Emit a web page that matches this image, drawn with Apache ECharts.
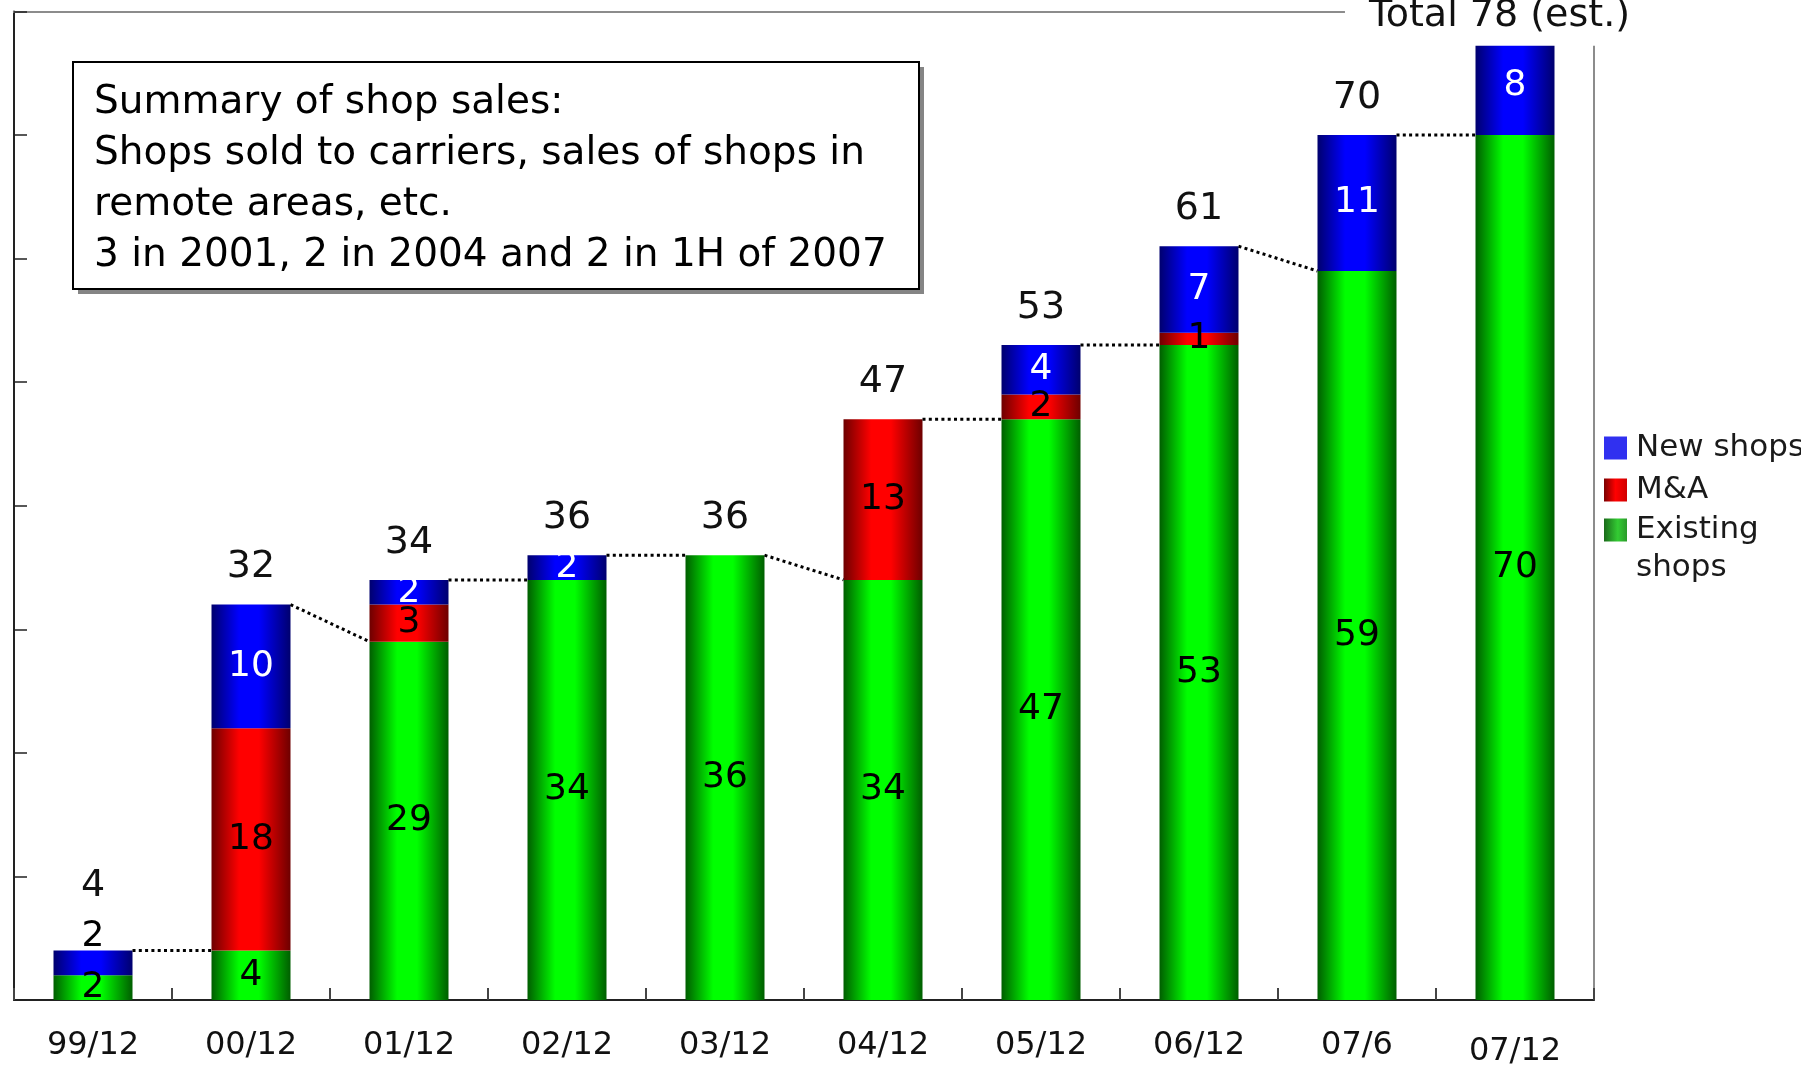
<!DOCTYPE html>
<html>
<head>
<meta charset="utf-8">
<title>Shop count</title>
<script src="https://cdn.jsdelivr.net/npm/echarts@6/dist/echarts.min.js"></script>
<style>
  html, body { margin: 0; padding: 0; background: #fff; }
  #chart { width: 1801px; height: 1065px; }
</style>
</head>
<body>
<div id="chart"></div>
<script>
// Period-end shop counts, split by origin
const categories = ['99/12', '00/12', '01/12', '02/12', '03/12', '04/12', '05/12', '06/12', '07/6', '07/12'];
const existingShops = [2, 4, 29, 34, 36, 34, 47, 53, 59, 70];
const mAndA = [0, 18, 3, 0, 0, 13, 2, 1, 0, 0];
const newShops = [2, 10, 2, 2, 0, 0, 4, 7, 11, 8];
const yTicks = [0, 10, 20, 30, 40, 50, 60, 70, 80];
const noteLines = [
  'Summary of shop sales:',
  'Shops sold to carriers, sales of shops in',
  'remote areas, etc.',
  '3 in 2001, 2 in 2004 and 2 in 1H of 2007'
];

const totals = categories.map((_, i) => existingShops[i] + mAndA[i] + newShops[i]);
const lastIdx = categories.length - 1;

const FONT = 'DejaVu Sans';
const BAR_W = 79;

function barGradient(edge, mid) {
  return new echarts.graphic.LinearGradient(0, 0, 1, 0, [
    { offset: 0, color: edge },
    { offset: 0.35, color: mid },
    { offset: 0.6, color: mid },
    { offset: 1, color: edge }
  ]);
}

const hideZero = p => (p.value ? String(p.value) : '');

const segLabel = color => ({
  show: true,
  position: 'inside',
  fontFamily: FONT,
  fontSize: 36,
  color: color,
  formatter: hideZero
});

// Dotted connector: previous period total -> next period existing shops
const connectors = [];
for (let i = 0; i < lastIdx; i++) {
  connectors.push([i, totals[i], existingShops[i + 1]]);
}

const legendText = { fontFamily: FONT, fontSize: 31, color: '#1a1a1a', lineHeight: 36, padding: [0, 0, 0, 4] };

const chart = echarts.init(document.getElementById('chart'), null, { renderer: 'canvas' });

chart.setOption({
  animation: false,
  backgroundColor: '#fff',
  textStyle: { fontFamily: FONT },
  grid: { left: 14, right: 207, top: 11.5, bottom: 65, containLabel: false, outerBoundsMode: 'none' },
  legend: [
    {
      orient: 'vertical',
      left: 1599,
      top: 425,
      itemWidth: 23,
      itemHeight: 23,
      itemGap: 6,
      icon: 'rect',
      selectedMode: false,
      textStyle: legendText,
      data: [
        { name: 'New shops', itemStyle: { color: '#3030f0' } },
        {
          name: 'M&A',
          itemStyle: {
            color: new echarts.graphic.LinearGradient(0, 0, 1, 0, [
              { offset: 0, color: '#7a0000' }, { offset: 0.5, color: '#ff0000' }, { offset: 1, color: '#d00000' }
            ])
          }
        }
      ]
    },
    {
      // Two-line entry: an empty leading row keeps the first line level with the swatch
      orient: 'vertical',
      left: 1599,
      top: 468,
      itemWidth: 23,
      itemHeight: 23,
      icon: 'rect',
      selectedMode: false,
      formatter: name => '{gap| }\n{t|' + name.split('\n').join('}\n{t|') + '}',
      textStyle: Object.assign({}, legendText, {
        lineHeight: 38,
        rich: {
          gap: { fontFamily: FONT, fontSize: 31, lineHeight: 38 },
          t: { fontFamily: FONT, fontSize: 31, lineHeight: 38, color: '#1a1a1a' }
        }
      }),
      data: [
        {
          name: 'Existing\nshops',
          itemStyle: {
            color: new echarts.graphic.LinearGradient(0, 0, 1, 0, [
              { offset: 0, color: '#1a6a1a' }, { offset: 0.6, color: '#33cc33' }, { offset: 1, color: '#2a9a2a' }
            ])
          }
        }
      ]
    }
  ],
  xAxis: [
    {
      type: 'category',
      data: categories,
      position: 'bottom',
      axisLine: { lineStyle: { color: '#222', width: 2 } },
      axisTick: { show: true, inside: true, length: 12, interval: 0, lineStyle: { color: '#444', width: 2 } },
      axisLabel: {
        interval: 0,
        fontFamily: FONT,
        fontSize: 32,
        color: '#111',
        margin: 30,
        formatter: (v, i) => (i === lastIdx ? '{low|' + v + '}' : v),
        rich: { low: { fontFamily: FONT, fontSize: 32, color: '#111', padding: [6, 0, 0, 0] } }
      }
    },
    {
      type: 'category',
      data: categories,
      position: 'top',
      axisLine: { onZero: false, lineStyle: { color: '#8c8c8c', width: 2 } },
      axisTick: { show: false },
      axisLabel: { show: false }
    }
  ],
  yAxis: [
    {
      type: 'value',
      min: yTicks[0],
      max: yTicks[yTicks.length - 1],
      interval: yTicks[1] - yTicks[0],
      axisLine: { show: true, lineStyle: { color: '#222', width: 2 } },
      axisTick: { show: true, inside: true, length: 13, lineStyle: { color: '#222', width: 1.5 } },
      axisLabel: { show: false },
      splitLine: { show: false }
    },
    {
      type: 'value',
      position: 'right',
      min: yTicks[0],
      max: yTicks[yTicks.length - 1],
      interval: yTicks[1] - yTicks[0],
      axisLine: { show: true, onZero: false, lineStyle: { color: '#8c8c8c', width: 2 } },
      axisTick: { show: false },
      axisLabel: { show: false },
      splitLine: { show: false }
    }
  ],
  graphic: [
    { type: 'rect', left: 78, top: 67, z: 10, shape: { width: 846, height: 227 }, style: { fill: '#858585' } },
    { type: 'rect', left: 72, top: 61, z: 11, shape: { width: 846, height: 227 }, style: { fill: '#fff', stroke: '#000', lineWidth: 2 } },
    {
      type: 'text', left: 94, top: 77, z: 12,
      style: { text: noteLines.join('\n'), font: '39px "DejaVu Sans"', lineHeight: 51, fill: '#000' }
    }
  ],
  series: [
    {
      name: 'Existing\nshops',
      type: 'bar',
      stack: 'shops',
      barWidth: BAR_W,
      barGap: '-100%',
      silent: true,
      itemStyle: { color: barGradient('#005e00', '#00ff00') },
      label: segLabel('#000'),
      data: existingShops
    },
    {
      name: 'M&A',
      type: 'bar',
      stack: 'shops',
      barWidth: BAR_W,
      barGap: '-100%',
      silent: true,
      itemStyle: { color: barGradient('#6e0000', '#ff0000') },
      label: segLabel('#000'),
      data: mAndA
    },
    {
      name: 'New shops',
      type: 'bar',
      stack: 'shops',
      barWidth: BAR_W,
      barGap: '-100%',
      silent: true,
      itemStyle: { color: barGradient('#00006e', '#0000ff') },
      label: segLabel('#fff'),
      data: newShops.map((v, i) => (i === 0
        ? { value: v, label: { position: 'top', distance: -4, color: '#000' } }
        : v))
    },
    {
      name: 'Total',
      type: 'bar',
      barWidth: BAR_W,
      barGap: '-100%',
      silent: true,
      z: 4,
      itemStyle: { color: 'rgba(0,0,0,0)' },
      label: {
        show: true,
        position: 'top',
        distance: 18,
        fontFamily: FONT,
        fontSize: 38,
        color: '#111'
      },
      data: totals.map((v, i) => {
        if (i === 0) return { value: v, label: { distance: 45 } };
        if (i === lastIdx) {
          return {
            value: v,
            label: {
              formatter: 'Total {c} (est.)',
              distance: -9.6,
              offset: [-15.5, 0],
              lineHeight: 38,
              backgroundColor: '#fff',
              padding: [22, 24, 10.5, 24]
            }
          };
        }
        return v;
      })
    },
    {
      name: 'Sold',
      type: 'custom',
      silent: true,
      z: 5,
      data: connectors,
      encode: { x: 0, y: [1, 2] },
      renderItem: (params, api) => {
        const i = api.value(0);
        const a = api.coord([i, api.value(1)]);
        const b = api.coord([i + 1, api.value(2)]);
        const half = BAR_W / 2;
        return {
          type: 'line',
          shape: { x1: a[0] + half, y1: a[1], x2: b[0] - half, y2: b[1] },
          style: { stroke: '#000', lineWidth: 3, lineDash: [3, 3.3], fill: null }
        };
      }
    }
  ]
});
</script>
</body>
</html>
